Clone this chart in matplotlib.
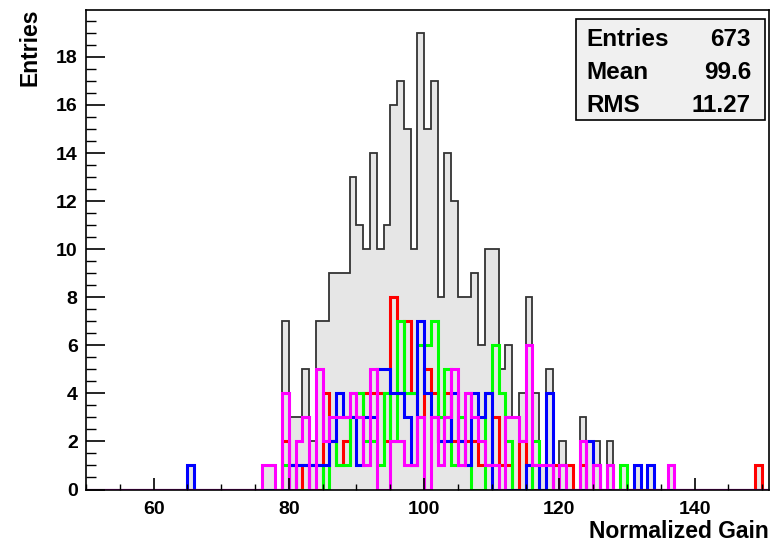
import numpy as np
import matplotlib.pyplot as plt
from matplotlib.patches import Rectangle

plt.rcParams['font.family'] = ['Liberation Sans', 'DejaVu Sans']
plt.rcParams['font.weight'] = 'bold'

# histogram binning: 1-unit bins from 50 to 151
x_lo, x_hi = 50, 151
first_bin = 76  # lower edge of first bin in the lists below

# counts for bins 76 .. 136
total = [1, 1, 0, 7, 3, 3, 5, 2, 7, 7,
         9, 9, 9, 13, 11, 10, 14, 10, 11, 16,
         17, 15, 10, 19, 15, 17, 8, 14, 12, 8,
         8, 9, 6, 10, 10, 5, 6, 3, 4, 8,
         4, 1, 5, 1, 2, 1, 0, 3, 2, 2,
         0, 2, 0, 1, 0, 1, 0, 1, 0, 0,
         1]
red = [0, 0, 0, 2, 1, 0, 1, 0, 0, 4,
       2, 1, 2, 3, 3, 4, 4, 4, 2, 8,
       4, 7, 4, 3, 5, 4, 2, 4, 2, 2,
       2, 2, 1, 1, 3, 1, 1, 0, 2, 1,
       0, 0, 0, 1, 1, 1, 0, 1, 0, 0,
       0, 0, 0, 0, 0, 0, 0, 0, 0, 0,
       0]
green = [0, 0, 0, 1, 1, 0, 0, 1, 1, 0,
         2, 1, 1, 3, 4, 2, 2, 1, 4, 2,
         7, 4, 4, 6, 6, 7, 3, 5, 1, 3,
         1, 0, 0, 4, 6, 4, 2, 0, 0, 0,
         2, 0, 0, 0, 0, 0, 0, 0, 0, 0,
         0, 1, 0, 1, 0, 0, 0, 0, 0, 0,
         0]
blue = [0, 0, 0, 0, 1, 1, 1, 1, 1, 1,
        2, 4, 3, 3, 1, 3, 3, 5, 5, 4,
        4, 3, 1, 7, 4, 3, 2, 2, 4, 2,
        1, 4, 3, 4, 0, 0, 0, 0, 0, 1,
        1, 0, 4, 0, 0, 0, 0, 0, 2, 1,
        0, 0, 0, 0, 0, 1, 0, 1, 0, 0,
        0]
magenta = [1, 1, 0, 4, 0, 2, 3, 0, 5, 2,
           3, 3, 3, 4, 3, 1, 5, 0, 0, 2,
           2, 1, 1, 3, 0, 3, 1, 3, 5, 1,
           4, 3, 2, 1, 1, 0, 3, 3, 2, 6,
           1, 1, 1, 0, 1, 0, 0, 2, 0, 1,
           0, 1, 0, 0, 0, 0, 0, 0, 0, 0,
           1]

# isolated entries outside the main block (bin lower edge -> count)
blue_extra = {65: 1}
red_extra = {149: 1}
total_extra = {65: 1, 149: 1}

stats_labels = ['Entries', 'Mean', 'RMS']
stats_values = ['673', '99.6', '11.27']

edges = np.arange(x_lo, x_hi + 1)


def full_counts(counts, extra=None):
    arr = np.zeros(len(edges) - 1)
    arr[first_bin - x_lo:first_bin - x_lo + len(counts)] = counts
    for b, c in (extra or {}).items():
        arr[b - x_lo] = c
    return arr


fig = plt.figure(figsize=(7.8, 5.45), dpi=100)
ax = fig.add_axes([86 / 780, 1 - 489.5 / 545, 683 / 780, 479.5 / 545])

h_tot = full_counts(total, total_extra)
ax.stairs(h_tot, edges, fill=True, color='#e6e6e6')
ax.stairs(h_tot, edges, color='#333333', lw=1.3)

for counts, extra, col in [(red, red_extra, '#ff0000'),
                           (green, None, '#00ff00'),
                           (blue, blue_extra, '#0000ff'),
                           (magenta, None, '#ff00ff')]:
    ax.stairs(full_counts(counts, extra), edges, color=col, lw=2.2)

ax.set_xlim(x_lo, x_hi)
ax.set_ylim(0, 19.95)
ax.set_xticks(np.arange(60, 141, 20))
ax.set_xticks(np.arange(50, 151, 5), minor=True)
ax.set_yticks(np.arange(0, 19, 2))
ax.set_yticks(np.arange(0, 19.9, 0.5), minor=True)
ax.tick_params(axis='x', which='major', direction='in', length=9, width=1.2, labelsize=14, pad=8)
ax.tick_params(axis='x', which='minor', direction='in', length=4.5, width=1.0)
ax.tick_params(axis='y', which='major', direction='in', length=14, width=1.2, labelsize=14, pad=6)
ax.tick_params(axis='y', which='minor', direction='in', length=7, width=1.0)
for lab in ax.get_xticklabels() + ax.get_yticklabels():
    lab.set_fontweight('bold')
for s in ax.spines.values():
    s.set_linewidth(1.2)

fig.text(769 / 780, 1 - 531 / 545, 'Normalized Gain', ha='right', va='center',
         fontsize=16.5, fontweight='bold')
fig.text(30 / 780, 1 - 9 / 545, 'Entries', ha='center', va='top',
         rotation=90, fontsize=16.5, fontweight='bold')

# stats box
box = Rectangle((576 / 780, 1 - 120 / 545), (765 - 576) / 780, (120 - 19) / 545,
                transform=fig.transFigure, facecolor='#f0f0f0',
                edgecolor='black', lw=1.2)
fig.patches.append(box)
for i, (lab, val) in enumerate(zip(stats_labels, stats_values)):
    y = 1 - (40 + 32.5 * i) / 545
    fig.text(586 / 780, y, lab, ha='left', va='center', fontsize=17.5, fontweight='bold')
    fig.text(751 / 780, y, val, ha='right', va='center', fontsize=17.5, fontweight='bold')

fig.savefig('out.png', dpi=100)
